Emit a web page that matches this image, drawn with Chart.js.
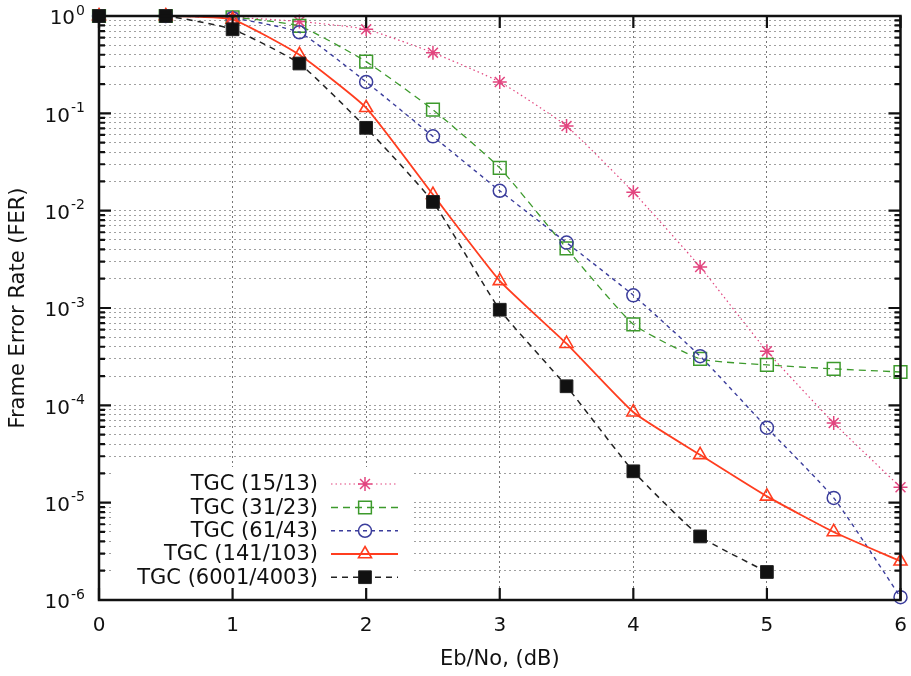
<!DOCTYPE html>
<html>
<head>
<meta charset="utf-8">
<script src="https://cdn.jsdelivr.net/npm/chart.js@4.4.0/dist/chart.umd.min.js"></script>
<style>
  html, body { margin: 0; padding: 0; background: #fff; }
</style>
</head>
<body>
<canvas id="fer" width="911" height="676"></canvas>
<script>
// Eb/No values (dB)
const ebno = [0, 0.5, 1, 1.5, 2, 2.5, 3, 3.5, 4, 4.5, 5, 5.5, 6];

// Frame error rate for each code
const fer15_13 = [1, 1, 0.97, 0.88, 0.73, 0.42, 0.21, 0.074, 0.0155, 0.00264, 3.6e-4, 6.6e-5, 1.44e-5];
const fer31_23 = [1, 1, 0.97, 0.79, 0.34, 0.109, 0.0275, 0.0041, 6.8e-4, 3.0e-4, 2.6e-4, 2.37e-4, 2.2e-4];
const fer61_43 = [1, 1, 0.95, 0.68, 0.21, 0.058, 0.016, 0.0047, 0.00135, 3.2e-4, 5.9e-5, 1.12e-5, 1.07e-6];
const fer141_103 = [1, 1, 0.92, 0.40, 0.114, 0.0146, 0.0019, 4.3e-4, 8.5e-5, 3.1e-5, 1.16e-5, 5.0e-6, 2.5e-6];
const fer6001_4003 = [1, 1, 0.73, 0.325, 0.071, 0.0123, 9.6e-4, 1.57e-4, 2.1e-5, 4.5e-6, 1.94e-6, null, null];

const seriesNames = ['TGC (15/13)', 'TGC (31/23)', 'TGC (61/43)', 'TGC (141/103)', 'TGC (6001/4003)'];

// axis ticks
const xTicks = [0, 1, 2, 3, 4, 5, 6];
const yDecades = [1e-6, 1e-5, 1e-4, 1e-3, 1e-2, 1e-1, 1];
const yExponents = ['-6', '-5', '-4', '-3', '-2', '-1', '0'];

const FONT = '"DejaVu Sans", sans-serif';

function toPoints(vals) {
    return ebno.map((x, i) => ({ x: x, y: vals[i] })).filter(p => p.y !== null);
}

// gridlines at 1..9 x 10^n
function logGridValues() {
    const out = [];
    for (let i = 0; i < yDecades.length - 1; i++) {
        for (let k = 1; k < 10; k++) out.push(k * yDecades[i]);
    }
    out.push(yDecades[yDecades.length - 1]);
    return out;
}

const datasets = [
    {
        label: seriesNames[0], data: toPoints(fer15_13),
        borderColor: '#e2457f', backgroundColor: '#e2457f',
        borderWidth: 1.2, borderDash: [1.5, 3],
        pointStyle: 'star', pointRadius: 7, pointBorderWidth: 1.5,
        order: 4
    },
    {
        label: seriesNames[1], data: toPoints(fer31_23),
        borderColor: '#3d9a2c', backgroundColor: 'rgba(0,0,0,0)',
        borderWidth: 1.3, borderDash: [7, 5],
        pointStyle: 'rect', pointRadius: 9, pointBorderWidth: 1.5,
        order: 3
    },
    {
        label: seriesNames[2], data: toPoints(fer61_43),
        borderColor: '#3b3d9c', backgroundColor: 'rgba(0,0,0,0)',
        borderWidth: 1.4, borderDash: [4, 4],
        pointStyle: 'circle', pointRadius: 6.5, pointBorderWidth: 1.5,
        order: 2
    },
    {
        label: seriesNames[3], data: toPoints(fer141_103),
        borderColor: '#ff3d1f', backgroundColor: 'rgba(0,0,0,0)',
        borderWidth: 1.8, borderDash: [],
        pointStyle: 'triangle', pointRadius: 7.5, pointBorderWidth: 1.6,
        order: 1
    },
    {
        label: seriesNames[4], data: toPoints(fer6001_4003),
        borderColor: '#222222', backgroundColor: '#111111',
        borderWidth: 1.5, borderDash: [6, 5],
        pointStyle: 'rect', pointRadius: 9, pointBorderWidth: 1,
        order: 0
    }
];

datasets.forEach(d => {
    d.pointBackgroundColor = d.backgroundColor;
    d.pointBorderColor = d.borderColor;
    d.tension = 0.15;
    d.fill = false;
    d.clip = false;
});

const framePlugin = {
    id: 'frame',
    beforeDatasetsDraw(chart) {
        // white box behind the legend
        const a = chart.chartArea;
        const ctx = chart.ctx;
        ctx.save();
        ctx.fillStyle = '#fff';
        ctx.fillRect(a.left + 14, a.bottom - 133, 300, 131);
        ctx.restore();
    },
    afterDraw(chart) {
        const ctx = chart.ctx;
        const a = chart.chartArea;
        const xs = chart.scales.x, ys = chart.scales.y;
        ctx.save();

        // tick marks, inside the box on all four sides
        ctx.strokeStyle = '#111';
        ctx.lineWidth = 2.2;
        ctx.beginPath();
        xTicks.forEach(v => {
            const px = xs.getPixelForValue(v);
            ctx.moveTo(px, a.bottom); ctx.lineTo(px, a.bottom - 12);
            ctx.moveTo(px, a.top); ctx.lineTo(px, a.top + 12);
        });
        logGridValues().forEach(v => {
            const py = ys.getPixelForValue(v);
            const major = yDecades.includes(v);
            const len = major ? 12 : 6;
            ctx.moveTo(a.left, py); ctx.lineTo(a.left + len, py);
            ctx.moveTo(a.right, py); ctx.lineTo(a.right - len, py);
        });
        ctx.stroke();

        // frame
        ctx.lineWidth = 2.5;
        ctx.strokeRect(a.left, a.top, a.right - a.left, a.bottom - a.top);

        // y tick labels 10^n
        ctx.fillStyle = '#111';
        ctx.textBaseline = 'middle';
        yDecades.forEach((v, i) => {
            const py = ys.getPixelForValue(v);
            ctx.font = '14px ' + FONT;
            const ew = ctx.measureText(yExponents[i]).width;
            ctx.textAlign = 'left';
            ctx.fillText(yExponents[i], 85 - ew, py - 5);
            ctx.font = '20px ' + FONT;
            ctx.textAlign = 'right';
            ctx.fillText('10', 85 - ew - 1, py + 3);
        });

        // axis titles
        ctx.font = '21px ' + FONT;
        ctx.textAlign = 'center';
        ctx.fillText('Eb/No, (dB)', (a.left + a.right) / 2, 660);
        ctx.save();
        ctx.translate(19, (a.top + a.bottom) / 2);
        ctx.rotate(-Math.PI / 2);
        ctx.fillText('Frame Error Rate (FER)', 0, 0);
        ctx.restore();

        // legend
        const rowY = [484, 507.5, 530.8, 554, 577.2];
        chart.data.datasets.forEach((d, i) => {
            const y = rowY[i];
            ctx.font = '21px ' + FONT;
            ctx.textAlign = 'right';
            ctx.fillStyle = '#111';
            ctx.fillText(d.label, 318, y + 1);
            ctx.strokeStyle = d.borderColor;
            ctx.lineWidth = d.borderWidth;
            ctx.setLineDash(d.borderDash);
            ctx.beginPath();
            ctx.moveTo(331, y); ctx.lineTo(398, y);
            ctx.stroke();
            ctx.setLineDash([]);
            ctx.fillStyle = d.pointBackgroundColor;
            ctx.strokeStyle = d.pointBorderColor;
            ctx.lineWidth = d.pointBorderWidth;
            Chart.helpers.drawPoint(ctx, {
                pointStyle: d.pointStyle, radius: d.pointRadius,
                borderWidth: d.pointBorderWidth, rotation: 0
            }, 365, y);
        });
        ctx.restore();
    }
};

new Chart(document.getElementById('fer'), {
    type: 'line',
    data: { datasets: datasets },
    plugins: [framePlugin],
    options: {
        responsive: false,
        animation: false,
        devicePixelRatio: 1,
        layout: { padding: { top: 16, right: 9, left: 0, bottom: 0 } },
        plugins: { legend: { display: false }, tooltip: { enabled: false } },
        scales: {
            x: {
                type: 'linear', min: 0, max: 6,
                afterBuildTicks: s => { s.ticks = xTicks.map(v => ({ value: v })); },
                afterFit: s => { s.height = 76; s.paddingLeft = 0; s.paddingRight = 0; },
                ticks: {
                    color: '#111', padding: 14,
                    font: { family: FONT, size: 20 }
                },
                grid: {
                    color: '#777', lineWidth: 1, drawTicks: false
                },
                border: { display: false, dash: [2, 3] }
            },
            y: {
                type: 'logarithmic', min: 1e-6, max: 1,
                afterBuildTicks: s => { s.ticks = logGridValues().map(v => ({ value: v })); },
                afterFit: s => { s.width = 99; s.paddingTop = 0; s.paddingBottom = 0; },
                ticks: { display: false, autoSkip: false },
                grid: { color: '#a0a0a0', lineWidth: 1, drawTicks: false },
                border: { display: false, dash: [2, 3] }
            }
        }
    }
});
</script>
</body>
</html>
